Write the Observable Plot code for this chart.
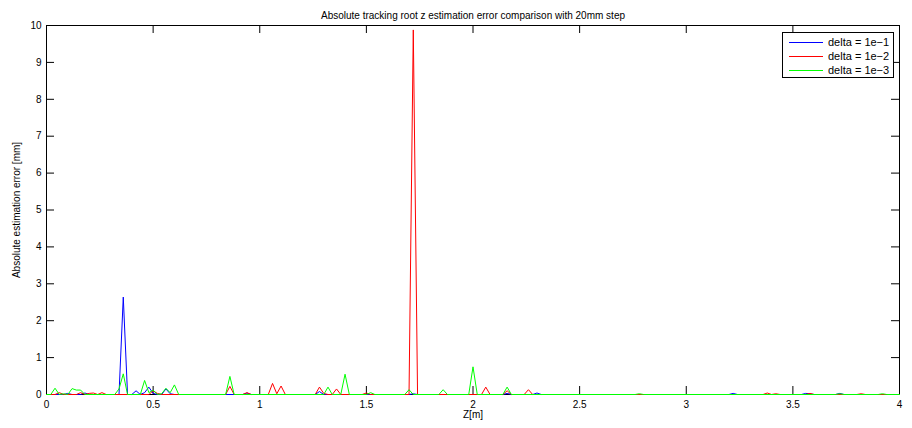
<!DOCTYPE html>
<html>
<head>
<meta charset="utf-8">
<script src="https://cdn.jsdelivr.net/npm/d3@7"></script>
<script src="https://cdn.jsdelivr.net/npm/@observablehq/plot@0.6"></script>
<style>
  body { margin: 0; background: #fff; font-family: "Liberation Sans", Arial, sans-serif; }
  #wrap { position: relative; width: 912px; height: 428px; }
  #legend { position: absolute; left: 0; top: 0; pointer-events: none; }
</style>
</head>
<body>
<div id="wrap"></div>
<script>
const title = "Absolute tracking root z estimation error comparison with 20mm step";
const xLabel = "Z[m]";
const yLabel = "Absolute estimation error [mm]";
const seriesNames = ["delta = 1e\u22121", "delta = 1e\u22122", "delta = 1e\u22123"];
const seriesColors = ["#0000ff", "#ff0000", "#00ff00"];
const xTicks = [0, 0.5, 1, 1.5, 2, 2.5, 3, 3.5, 4];
const yTicks = [0, 1, 2, 3, 4, 5, 6, 7, 8, 9, 10];

// delta = 1e-1
const blueZ   = [0, 0.08, 0.1, 0.12, 0.16, 0.18, 0.2, 0.34, 0.36, 0.38, 0.4, 0.42, 0.44, 0.46, 0.48, 0.5, 0.52, 0.54, 0.56, 0.58, 0.6, 0.92, 0.94, 0.96, 1.26, 1.28, 1.3, 1.7, 1.72, 1.74, 2.14, 2.16, 2.18, 2.28, 2.3, 2.32, 3.2, 3.22, 3.24, 3.54, 3.56, 3.58, 3.6, 3.7, 3.72, 3.74, 4];
const blueErr = [0, 0,    0.03, 0,   0,    0.04, 0,   0,    2.64, 0,    0,   0.1,  0,    0.05, 0.2,  0.03, 0,    0,    0.15, 0.02, 0,   0,    0.04, 0,    0,    0.08, 0,   0,   0.02, 0,    0,    0.03, 0,    0,    0.04, 0,    0,   0.03, 0,    0,    0.03, 0.02, 0,   0,   0.03, 0,    0];

// delta = 1e-2
const redZ   = [0, 0.04, 0.06, 0.08, 0.14, 0.16, 0.18, 0.2, 0.22, 0.24, 0.26, 0.28, 0.48, 0.5, 0.52, 0.54, 0.84, 0.86, 0.88, 0.92, 0.94, 0.96, 1.04, 1.06, 1.08, 1.1, 1.12, 1.26, 1.28, 1.3, 1.32, 1.34, 1.36, 1.38, 1.48, 1.5, 1.52, 1.7, 1.72, 1.74, 2.04, 2.06, 2.08, 2.14, 2.16, 2.18, 2.24, 2.26, 2.28, 3.36, 3.38, 3.4, 3.42, 3.44, 3.56, 3.58, 3.6, 3.8, 3.82, 3.84, 4];
const redErr = [0, 0,    0.05, 0,    0,    0.05, 0,    0.03, 0.04, 0,   0.05, 0,    0,    0.1, 0.03, 0,    0,    0.22, 0,    0,    0.05, 0,    0,    0.3,  0.02, 0.23, 0,   0,    0.2,  0.03, 0,   0,    0.15, 0,    0,    0.04, 0,   0,   9.88, 0,    0,    0.2,  0,    0,    0.1,  0,    0,    0.13, 0,    0,    0.04, 0,   0.02, 0,    0,    0.03, 0,   0,   0.02, 0,    0];

// delta = 1e-3
const greenZ   = [0, 0.02, 0.04, 0.06, 0.08, 0.1, 0.12, 0.14, 0.16, 0.18, 0.32, 0.34, 0.36, 0.38, 0.44, 0.46, 0.48, 0.5, 0.52, 0.54, 0.56, 0.58, 0.6, 0.62, 0.84, 0.86, 0.88, 1.3, 1.32, 1.34, 1.38, 1.4, 1.42, 1.5, 1.52, 1.54, 1.68, 1.7, 1.72, 1.84, 1.86, 1.88, 1.98, 2.0, 2.02, 2.14, 2.16, 2.18, 2.76, 2.78, 2.8, 3.7, 3.72, 3.74, 3.9, 3.92, 3.94, 4];
const greenErr = [0, 0,    0.17, 0,    0.02, 0,   0.16, 0.12, 0.12, 0,    0,    0.15, 0.56, 0,    0,    0.38, 0.05, 0.12, 0,  0.02, 0.17, 0.05, 0.26, 0,   0,    0.49, 0,    0,   0.2,  0,    0,    0.55, 0,    0,   0.05, 0,    0,    0.13, 0,    0,    0.13, 0,    0,    0.75, 0,   0,    0.2,  0,    0,    0.02, 0,   0,   0.02, 0,    0,   0.02, 0,    0];

const zs = [blueZ, redZ, greenZ];
const errs = [blueErr, redErr, greenErr];
const rows = [];
seriesNames.forEach((name, i) => {
  zs[i].forEach((z, j) => rows.push({series: name, z, err: errs[i][j]}));
});

const W = 912, H = 428, mT = 25, mB = 34, mL = 46, mR = 13;
const frameH = H - mT - mB, frameW = W - mL - mR;
const tickLen = 8;

const chart = Plot.plot({
  width: W, height: H,
  marginTop: mT, marginBottom: mB, marginLeft: mL, marginRight: mR,
  style: {fontFamily: "'Liberation Sans', Arial, sans-serif", fontSize: "10px", color: "#000", background: "#fff"},
  x: {domain: [0, 4], ticks: xTicks, tickFormat: d => String(d)},
  y: {domain: [0, 10], ticks: yTicks, tickFormat: d => String(d)},
  color: {domain: seriesNames, range: seriesColors},
  marks: [
    Plot.axisX({ticks: xTicks, tickSize: 0, tickPadding: 6, tickFormat: d => String(d), fontSize: 10,
                label: xLabel, labelAnchor: "center", labelArrow: "none", labelOffset: 23}),
    Plot.axisY({ticks: yTicks, tickSize: 0, tickPadding: 5, tickFormat: d => String(d), fontSize: 10,
                label: yLabel, labelAnchor: "center", labelArrow: "none", labelOffset: 34}),
    Plot.ruleX(xTicks, {x: d => d, insetTop: frameH - tickLen, stroke: "#000"}),
    Plot.ruleX(xTicks, {x: d => d, insetBottom: frameH - tickLen, stroke: "#000"}),
    Plot.ruleY(yTicks, {y: d => d, insetRight: frameW - tickLen, stroke: "#000"}),
    Plot.ruleY(yTicks, {y: d => d, insetLeft: frameW - tickLen, stroke: "#000"}),
    Plot.frame({stroke: "#000"}),
    ...seriesNames.map((name, i) =>
      Plot.line(rows.filter(r => r.series === name), {x: "z", y: "err", stroke: seriesColors[i], strokeWidth: 1})
    ),
    Plot.text([title], {frameAnchor: "top", dy: -14, fontSize: 10, text: d => d})
  ]
});
const wrap = document.getElementById("wrap");
wrap.appendChild(chart);

// legend box (top-right, inside the plot frame)
const lg = d3.create("svg").attr("id", "legend").attr("width", W).attr("height", H);
lg.append("rect").attr("x", 782.5).attr("y", 32.5).attr("width", 111).attr("height", 45)
  .attr("fill", "#fff").attr("stroke", "#000").attr("stroke-width", 1);
seriesNames.forEach((name, i) => {
  const yy = 42 + i * 14;
  lg.append("rect").attr("x", 789).attr("y", yy).attr("width", 34).attr("height", 1)
    .attr("fill", seriesColors[i]).attr("shape-rendering", "crispEdges");
  lg.append("text").attr("x", 828).attr("y", yy).attr("dy", "0.35em")
    .attr("font-family", "'Liberation Sans', Arial, sans-serif").attr("font-size", 11)
    .attr("fill", "#000").text(name);
});
wrap.appendChild(lg.node());
</script>
</body>
</html>
